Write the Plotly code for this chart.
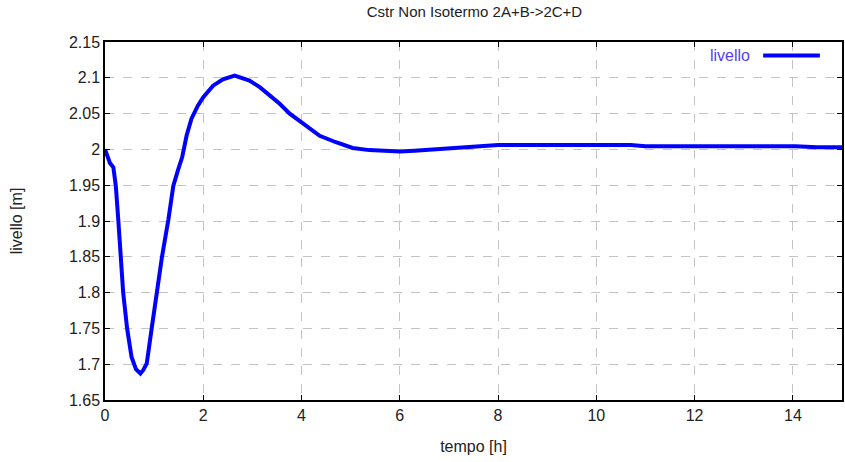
import plotly.graph_objects as go

# Data
tempo = [0.0, 0.1, 0.17, 0.22, 0.27, 0.32, 0.37, 0.45, 0.54, 0.63, 0.72, 0.78, 0.85, 0.95, 1.05,
         1.16, 1.29, 1.39, 1.49, 1.57, 1.66, 1.76, 1.89, 2.0, 2.2, 2.4, 2.64, 2.8, 2.94, 3.15,
         3.35, 3.55, 3.76, 4.03, 4.37, 4.7, 5.04, 5.38, 5.72, 6.0, 6.3, 6.74, 7.4, 7.67, 8.0,
         9.0, 10.0, 10.7, 11.0, 12.0, 13.0, 14.05, 14.5, 15.0]
livello = [2.0, 1.981, 1.975, 1.949, 1.902, 1.855, 1.80, 1.75, 1.71, 1.693, 1.687, 1.692, 1.701, 1.75, 1.80,
           1.85, 1.902, 1.949, 1.972, 1.989, 2.019, 2.043, 2.061, 2.073, 2.089, 2.098, 2.103, 2.1, 2.096, 2.087,
           2.076, 2.064, 2.050, 2.036, 2.019, 2.010, 2.002, 1.999, 1.998, 1.997, 1.998, 2.0, 2.003, 2.005, 2.006,
           2.006, 2.006, 2.006, 2.0045, 2.0045, 2.0045, 2.0045, 2.003, 2.003]

title_text = "Cstr Non Isotermo 2A+B->2C+D"
x_title = "tempo [h]"
y_title = "livello [m]"
series_name = "livello"
x_ticks = [0, 2, 4, 6, 8, 10, 12, 14]
y_ticks = [1.65, 1.7, 1.75, 1.8, 1.85, 1.9, 1.95, 2.0, 2.05, 2.1, 2.15]
y_tick_text = ["1.65", "1.7", "1.75", "1.8", "1.85", "1.9", "1.95", "2", "2.05", "2.1", "2.15"]

FONT = "Liberation Sans Narrow, Arial Narrow, Liberation Sans, Arial, sans-serif"

fig = go.Figure()
fig.add_trace(go.Scatter(x=tempo, y=livello, mode="lines", name=series_name,
                         line=dict(color="#0000ff", width=4), showlegend=False))

axis_common = dict(showline=True, linecolor="black", linewidth=1.5, mirror="ticks",
                   ticks="inside", ticklen=5, tickcolor="black", tickwidth=1,
                   showgrid=True, gridcolor="#c4c4c4", griddash="dash", gridwidth=1,
                   zeroline=False, tickfont=dict(family=FONT, size=16, color="#222222"))

fig.update_layout(
    width=845, height=462,
    margin=dict(l=105, r=1, t=42, b=62),
    paper_bgcolor="white", plot_bgcolor="white",
    title=dict(text=title_text, x=0.5615, xanchor="center", y=0.985, yanchor="top",
               font=dict(family=FONT, size=15, color="#222222")),
    xaxis=dict(range=[0, 15], tickvals=x_ticks,
               title=dict(text=x_title, font=dict(family=FONT, size=16, color="#222222"), standoff=18),
               **axis_common),
    yaxis=dict(range=[1.65, 2.15], tickvals=y_ticks, ticktext=y_tick_text,
               title=dict(text=y_title, font=dict(family=FONT, size=16, color="#222222"), standoff=42),
               **axis_common),
)

# gnuplot-style key: text on the left, line sample on the right
fig.add_annotation(x=0.878, y=0.962, xref="paper", yref="paper", text=series_name,
                   showarrow=False, xanchor="right", yanchor="middle",
                   font=dict(family=FONT, size=16, color="#5a3cf5"))
fig.add_shape(type="line", xref="paper", yref="paper", x0=0.893, x1=0.970, y0=0.962, y1=0.962,
              line=dict(color="#0000ff", width=4))

fig.write_html("out.html")
